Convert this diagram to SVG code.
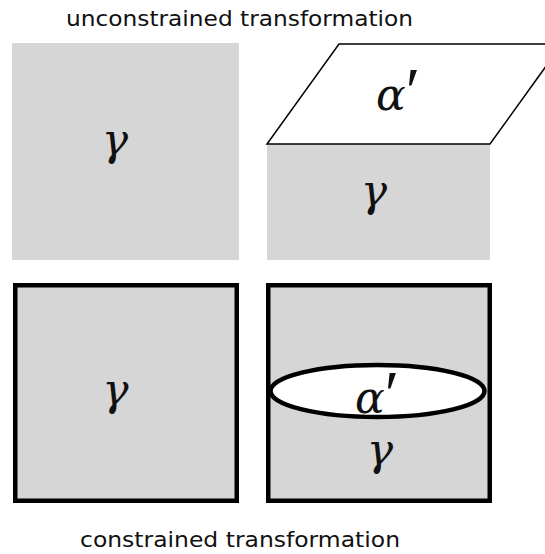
<svg xmlns="http://www.w3.org/2000/svg" width="545" height="554" viewBox="0 0 545 554">
<style>
.title{font-family:"DejaVu Sans",sans-serif;font-size:21px;fill:#111}
.math{font-family:"DejaVu Serif",serif;font-style:italic;font-size:44px;fill:#111}
.pr{font-family:"Liberation Serif",serif;font-style:normal;font-size:66px}
.gray{fill:#d6d6d6}
.box{fill:#d6d6d6;stroke:#000;stroke-width:4.5}
</style>
<rect width="545" height="554" fill="#fff"/>
<text class="title" x="66" y="26" textLength="347" lengthAdjust="spacingAndGlyphs">unconstrained transformation</text>
<g id="u-left">
<rect class="gray" x="12" y="43" width="227" height="217"/>
<text class="math" x="115" y="155" text-anchor="middle">γ</text>
</g>
<g id="u-right">
<rect class="gray" x="267" y="144" width="223" height="116"/>
<polygon points="267,144 490,144 562,44 339,44" fill="#fff" stroke="#000" stroke-width="1.5"/>
<text class="math" x="376" y="110">α<tspan class="pr" dx="0" dy="3">′</tspan></text>
<text class="math" x="374" y="206" text-anchor="middle">γ</text>
</g>
<g id="c-left">
<rect class="box" x="15.25" y="285.25" width="221.5" height="215.5"/>
<text class="math" x="115.5" y="405" text-anchor="middle">γ</text>
</g>
<g id="c-right">
<rect class="box" x="268.25" y="285.25" width="221.5" height="215.5"/>
<ellipse cx="377.5" cy="391" rx="107" ry="26" fill="#fff" stroke="#000" stroke-width="4.5"/>
<text class="math" x="355" y="413">α<tspan class="pr" dx="0" dy="3">′</tspan></text>
<text class="math" x="380" y="465" text-anchor="middle">γ</text>
</g>
<text class="title" x="80" y="547" textLength="320" lengthAdjust="spacingAndGlyphs">constrained transformation</text>
</svg>
